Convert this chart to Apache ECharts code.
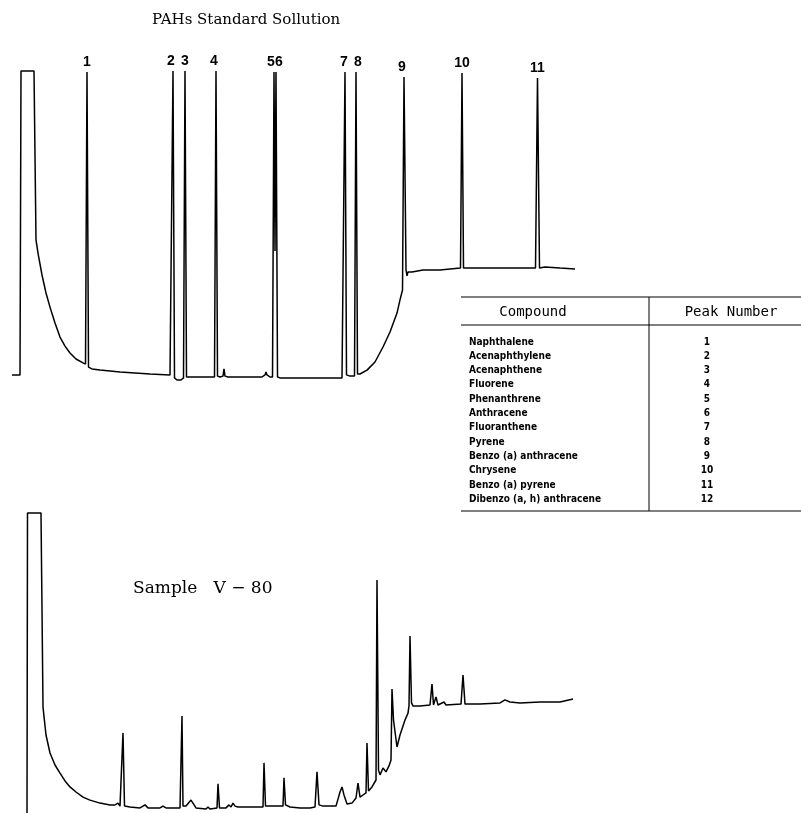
<!DOCTYPE html>
<html>
<head>
<meta charset="utf-8">
<script src="https://cdn.jsdelivr.net/npm/echarts@6/dist/echarts.min.js"></script>
<style>
  html, body { margin: 0; padding: 0; background: #fff; }
  #chart { width: 801px; height: 813px; }
</style>
</head>
<body>
<div id="chart"></div>
<script>
// Retention time (min) and detector response (relative units) for the PAH standard run
const standardTrace = [
  [0, 3.67], [0.8, 3.67], [0.9, 105], [2.2, 105], [2.4, 48.7], [2.6, 44.3], [3.0, 37],
  [3.4, 31], [3.8, 26.3], [4.3, 21], [4.8, 16.3], [5.3, 13.3], [5.8, 11], [6.4, 9],
  [7.1, 7.7], [7.35, 7.3], [7.5, 104.7], [7.65, 6.3], [8.0, 5.7], [8.8, 5.3], [10.8, 4.7],
  [13.8, 4], [15.8, 3.7], [15.95, 3.3], [16.1, 105], [16.25, 2.7], [16.5, 2], [16.9, 2],
  [17.15, 2.7], [17.3, 105], [17.45, 3], [18.3, 3], [20.0, 3], [20.25, 3], [20.4, 105],
  [20.55, 3.3], [20.8, 3], [21.1, 3.3], [21.2, 5.7], [21.3, 3.3], [21.6, 3], [25.0, 3],
  [25.3, 3.7], [25.4, 4.7], [25.5, 3.7], [25.8, 3], [26.05, 3], [26.2, 104.7], [26.3, 45],
  [26.4, 104.7], [26.55, 3], [26.8, 2.7], [28.8, 2.7], [31.8, 2.7], [33.0, 2.7], [33.15, 3],
  [33.3, 104.7], [33.45, 3.7], [33.8, 3.3], [34.25, 3.3], [34.4, 104.7], [34.55, 4],
  [34.8, 4], [35.5, 5.3], [36.3, 8], [37.1, 13], [37.8, 18], [38.5, 24.3], [38.8, 28.7],
  [39.05, 32], [39.2, 103], [39.4, 38.7], [39.5, 36.7], [39.6, 38], [40.0, 38], [41.1, 38.7],
  [42.8, 38.7], [43.8, 39], [44.85, 39.3], [45.0, 104.3], [45.15, 39.3], [45.8, 39.3],
  [48.8, 39.3], [52.35, 39.3], [52.55, 102.7], [52.75, 39.3], [53.3, 39.7], [54.8, 39.3],
  [56.3, 39]
];

// Numbered peaks of the standard run
const peakNumbers = ['1', '2', '3', '4', '5', '6', '7', '8', '9', '10', '11'];
const peakTimes = [7.5, 16.1, 17.3, 20.4, 26.2, 26.4, 33.3, 34.4, 39.2, 45.0, 52.55];
const peakHeights = [104.7, 105, 105, 105, 104.7, 104.7, 104.7, 104.7, 103, 104.3, 102.7];

// Sample V-80 run
const sampleTrace = [
  [0, 0], [0.05, 100], [1.4, 100], [1.6, 35.3], [1.9, 26], [2.3, 20], [2.8, 16], [3.3, 13.3],
  [3.8, 10.7], [4.3, 8.7], [4.9, 7], [5.6, 5.3], [6.3, 4.3], [7.3, 3.3], [8.3, 2.7],
  [8.8, 2.7], [9.1, 3.3], [9.3, 2.3], [9.5, 2.3], [9.6, 26.7], [9.75, 2.3], [10.3, 2],
  [11.3, 1.7], [11.8, 2.7], [12.1, 1.7], [13.3, 1.7], [13.6, 2.3], [13.9, 1.7], [15.3, 1.7],
  [15.4, 1.7], [15.5, 32.3], [15.6, 2.3], [15.9, 2.3], [16.4, 4.3], [16.6, 4.3], [16.9, 1.7],
  [17.9, 1.3], [18.1, 2], [18.3, 1.3], [19.0, 1.7], [19.1, 9.7], [19.25, 1.7], [19.9, 1.7],
  [20.2, 2.7], [20.4, 2], [20.6, 3.3], [20.8, 2.3], [21.1, 2], [22.8, 2], [23.6, 2],
  [23.7, 16.7], [23.85, 2.3], [24.3, 2.3], [25.6, 2.3], [25.7, 11.7], [25.85, 2.7],
  [26.3, 2], [27.3, 1.7], [28.3, 1.7], [28.8, 2], [29.0, 13.7], [29.2, 2.7], [29.6, 2.3],
  [30.9, 2.3], [31.3, 7], [31.5, 8.7], [31.7, 6], [32.0, 3], [32.5, 3.3], [32.9, 5],
  [33.1, 10], [33.3, 5.3], [33.6, 6], [33.9, 6.7], [34.0, 23.3], [34.15, 7.3], [34.5, 8.7],
  [34.9, 11], [35.0, 77.7], [35.15, 14.3], [35.3, 12.7], [35.6, 15], [35.9, 13.7],
  [36.2, 15.7], [36.4, 17.7], [36.5, 41.3], [36.65, 31], [37.0, 22], [37.3, 26], [37.8, 31],
  [38.1, 33.3], [38.2, 35.7], [38.3, 59], [38.45, 36.7], [38.6, 35.7], [39.3, 35.7],
  [40.3, 36], [40.4, 36], [40.5, 43], [40.65, 36], [40.9, 38.7], [41.1, 36], [41.7, 37],
  [41.9, 36], [43.4, 36.3], [43.6, 46], [43.8, 36.3], [45.3, 36.3], [47.3, 36.7],
  [47.8, 37.7], [48.0, 38.3], [48.3, 37], [49.3, 36.7], [51.3, 37], [53.3, 37], [54.6, 38]
];

// Peak assignment table
const compounds = [
  'Naphthalene', 'Acenaphthylene', 'Acenaphthene', 'Fluorene', 'Phenanthrene',
  'Anthracene', 'Fluoranthene', 'Pyrene', 'Benzo (a) anthracene', 'Chrysene',
  'Benzo (a) pyrene', 'Dibenzo (a, h) anthracene'
];
const compoundPeaks = ['1', '2', '3', '4', '5', '6', '7', '8', '9', '10', '11', '12'];

const titleText = 'PAHs Standard Sollution';
const sampleText = 'Sample   V \u2212 80';

// Horizontal nudges so close peak numbers do not overlap
const labelNudge = { '2': -2, '4': -2, '5': -3, '6': 3, '7': -1, '8': 2, '9': -2 };

const chart = echarts.init(document.getElementById('chart'), null, { renderer: 'canvas' });

const ink = '#000';
const rowFont = 'bold 10px "DejaVu Sans Condensed", "DejaVu Sans", sans-serif';
const headFont = '14px "DejaVu Sans Mono", monospace';

const table = [];
const tx0 = 461, tx1 = 801, tDiv = 649, tTop = 297, tHead = 325, tBot = 511;
table.push({ type: 'line', shape: { x1: tx0, y1: tTop, x2: tx1, y2: tTop }, style: { stroke: ink, lineWidth: 1.2 } });
table.push({ type: 'line', shape: { x1: tx0, y1: tHead, x2: tx1, y2: tHead }, style: { stroke: ink, lineWidth: 1 } });
table.push({ type: 'line', shape: { x1: tx0, y1: tBot, x2: tx1, y2: tBot }, style: { stroke: ink, lineWidth: 1.2 } });
table.push({ type: 'line', shape: { x1: tDiv, y1: tTop, x2: tDiv, y2: tBot }, style: { stroke: ink, lineWidth: 1 } });
table.push({ type: 'text', x: 533, y: 312, style: { text: 'Compound', fill: ink, font: headFont, align: 'center', verticalAlign: 'middle' } });
table.push({ type: 'text', x: 731, y: 312, style: { text: 'Peak Number', fill: ink, font: headFont, align: 'center', verticalAlign: 'middle' } });
compounds.forEach(function (name, i) {
  const y = 342 + i * 14.3;
  table.push({ type: 'text', x: 469, y: y, style: { text: name, fill: ink, font: rowFont, align: 'left', verticalAlign: 'middle' } });
  table.push({ type: 'text', x: 707, y: y, style: { text: compoundPeaks[i], fill: ink, font: rowFont, align: 'center', verticalAlign: 'middle' } });
});

const option = {
  animation: false,
  backgroundColor: '#fff',
  grid: [
    { left: 12, top: 71, width: 563, height: 315 },
    { left: 27, top: 513, width: 546, height: 300 }
  ],
  xAxis: [
    { type: 'value', gridIndex: 0, min: 0, max: 56.3, show: false },
    { type: 'value', gridIndex: 1, min: 0, max: 54.6, show: false }
  ],
  yAxis: [
    { type: 'value', gridIndex: 0, min: 0, max: 105, show: false },
    { type: 'value', gridIndex: 1, min: 0, max: 100, show: false }
  ],
  series: [
    {
      name: 'PAHs standard',
      type: 'line', xAxisIndex: 0, yAxisIndex: 0,
      data: standardTrace, showSymbol: false, clip: false,
      lineStyle: { color: ink, width: 1.5 }
    },
    {
      name: 'Peak numbers',
      type: 'scatter', xAxisIndex: 0, yAxisIndex: 0, clip: false,
      symbolSize: 0,
      itemStyle: { opacity: 1 },
      data: peakTimes.map(function (t, i) {
        return {
          name: peakNumbers[i], value: [t, peakHeights[i]],
          label: { offset: [labelNudge[peakNumbers[i]] || 0, 0] }
        };
      }),
      label: {
        show: true, position: 'top', distance: 3,
        formatter: '{b}', color: ink,
        fontFamily: '"Liberation Sans", Arial, sans-serif', fontWeight: 'bold', fontSize: 14
      }
    },
    {
      name: 'Sample V-80',
      type: 'line', xAxisIndex: 1, yAxisIndex: 1,
      data: sampleTrace, showSymbol: false, clip: false,
      lineStyle: { color: ink, width: 1.5 }
    }
  ],
  graphic: [
    { type: 'text', x: 152, y: 20, style: { text: titleText, fill: ink, font: '15px "DejaVu Serif", serif', verticalAlign: 'middle' } },
    { type: 'text', x: 133, y: 589, style: { text: sampleText, fill: ink, font: '17px "DejaVu Serif", serif', verticalAlign: 'middle' } }
  ].concat(table)
};

chart.setOption(option);
</script>
</body>
</html>
